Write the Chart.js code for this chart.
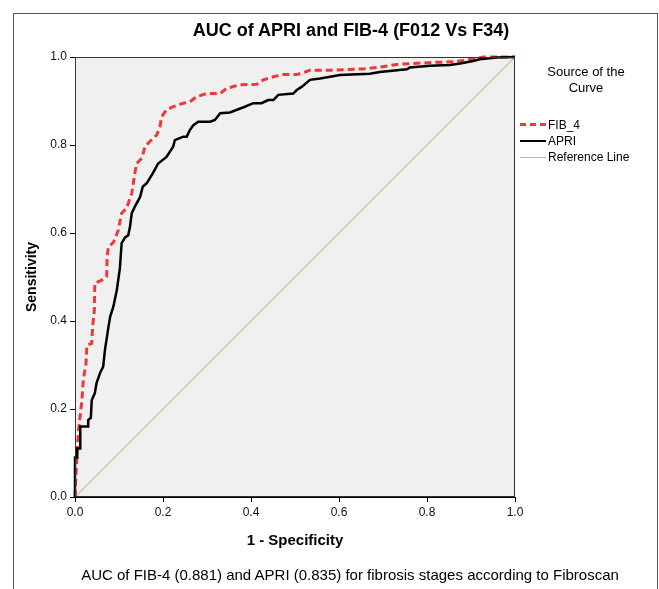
<!DOCTYPE html>
<html>
<head>
<meta charset="utf-8">
<script src="https://cdn.jsdelivr.net/npm/chart.js@4.4.1/dist/chart.umd.min.js"></script>
<style>
  html, body { margin: 0; padding: 0; background: #fff; }
  #wrap { position: relative; width: 659px; height: 589px; overflow: hidden;
          font-family: Arial, "Liberation Sans", sans-serif; color: #000; }
  #frame { position: absolute; left: 13px; top: 13px; width: 645px; height: 600px;
           border: 1px solid #555; box-sizing: border-box; }
  #chart { position: absolute; left: 0; top: 0; }
  .txt { position: absolute; white-space: nowrap; }
  #title { left: 0; width: 702px; top: 19px; text-align: center; font-size: 18px;
           font-weight: bold; line-height: 22px; }
  #caption { left: 0; width: 700px; top: 566px; text-align: center; font-size: 15px;
             line-height: 18px; }
  #legTitle { left: 526px; width: 120px; top: 64px; text-align: center; font-size: 13px;
              line-height: 16px; }
  .legItem { left: 548px; font-size: 12px; line-height: 14px; }
  .swatch { position: absolute; left: 520px; width: 26px; height: 0; }
</style>
</head>
<body>
<div id="wrap">
  <div id="frame"></div>
  <canvas id="chart" width="659" height="589"></canvas>
  <div class="txt" id="title">AUC of APRI and FIB-4 (F012 Vs F34)</div>
  <div class="txt" id="legTitle">Source of the<br>Curve</div>
  <div class="swatch" style="top:123px;border-top:3px dashed #f03838;"></div>
  <div class="txt legItem" style="top:118px;">FIB_4</div>
  <div class="swatch" style="top:140px;border-top:2.5px solid #000;"></div>
  <div class="txt legItem" style="top:134px;">APRI</div>
  <div class="swatch" style="top:157px;border-top:1px solid #c9bb7e;"></div>
  <div class="txt legItem" style="top:150px;">Reference Line</div>
  <div class="txt" id="caption">AUC of FIB-4 (0.881) and APRI (0.835) for fibrosis stages according to Fibroscan</div>
</div>
<script>
// 曲线数据（1 - 特异度, 灵敏度）
const apriX = [0, 0, 0.005, 0.005, 0.012, 0.012, 0.03, 0.03, 0.036, 0.038, 0.045, 0.049, 0.057,
  0.064, 0.068, 0.076, 0.080, 0.087, 0.095, 0.102, 0.106, 0.114, 0.121, 0.125, 0.129, 0.136,
  0.148, 0.154, 0.163, 0.177, 0.189, 0.208, 0.223, 0.227, 0.246, 0.254, 0.261, 0.269, 0.28,
  0.307, 0.318, 0.33, 0.352, 0.386, 0.405, 0.424, 0.439, 0.451, 0.462, 0.496, 0.504, 0.515,
  0.534, 0.557, 0.58, 0.602, 0.67, 0.693, 0.754, 0.761, 0.807, 0.852, 0.875, 0.905, 0.92,
  0.958, 1];
const apriY = [0, 0.09, 0.09, 0.11, 0.11, 0.16, 0.16, 0.175, 0.18, 0.22, 0.236, 0.259, 0.282,
  0.296, 0.334, 0.386, 0.41, 0.432, 0.47, 0.52, 0.577, 0.59, 0.595, 0.614, 0.645, 0.66,
  0.682, 0.705, 0.713, 0.736, 0.758, 0.773, 0.796, 0.811, 0.819, 0.819, 0.834, 0.845, 0.853,
  0.853, 0.857, 0.872, 0.874, 0.887, 0.895, 0.895, 0.902, 0.902, 0.914, 0.917, 0.925, 0.932,
  0.948, 0.951, 0.955, 0.959, 0.962, 0.966, 0.972, 0.976, 0.98, 0.982, 0.985, 0.991, 0.995,
  0.999, 1];

const fib4X = [0, 0.002, 0.004, 0.008, 0.015, 0.019, 0.025, 0.027, 0.038, 0.04, 0.044, 0.045,
  0.061, 0.072, 0.073, 0.076, 0.087, 0.098, 0.106, 0.117, 0.129, 0.136, 0.14, 0.152, 0.159,
  0.17, 0.186, 0.193, 0.197, 0.208, 0.223, 0.246, 0.261, 0.277, 0.299, 0.33, 0.345, 0.375,
  0.413, 0.428, 0.451, 0.473, 0.504, 0.523, 0.534, 0.58, 0.655, 0.693, 0.731, 0.761, 0.822,
  0.86, 0.89, 0.913, 0.928, 1];
const fib4Y = [0, 0.05, 0.084, 0.152, 0.213, 0.266, 0.304, 0.345, 0.349, 0.387, 0.425, 0.486,
  0.493, 0.501, 0.546, 0.569, 0.578, 0.605, 0.645, 0.656, 0.69, 0.736, 0.758, 0.77, 0.796,
  0.808, 0.823, 0.842, 0.864, 0.88, 0.887, 0.895, 0.898, 0.91, 0.917, 0.917, 0.929, 0.937,
  0.938, 0.948, 0.955, 0.96, 0.96, 0.966, 0.97, 0.97, 0.973, 0.977, 0.983, 0.985, 0.988,
  0.989, 0.993, 0.997, 1, 1];

const refX = [0, 1];
const refY = [0, 1];

const axisTicks = [0, 0.2, 0.4, 0.6, 0.8, 1.0];

function toPoints(xs, ys) {
  return xs.map((x, i) => ({ x: x, y: ys[i] }));
}

// 绘图区灰底和边框
const plotFrame = {
  id: 'plotFrame',
  beforeDraw(chart) {
    const { ctx, chartArea: a } = chart;
    ctx.save();
    ctx.fillStyle = '#f0f0f0';
    ctx.fillRect(a.left, a.top, a.right - a.left, a.bottom - a.top);
    ctx.restore();
  },
  afterDatasetsDraw(chart) {
    const { ctx, chartArea: a } = chart;
    ctx.save();
    ctx.strokeStyle = '#333';
    ctx.lineWidth = 1;
    ctx.strokeRect(a.left + 0.5, a.top + 0.5, a.right - a.left - 1, a.bottom - a.top - 1);
    ctx.restore();
  }
};

Chart.defaults.font.family = 'Arial, "Liberation Sans", sans-serif';
Chart.defaults.color = '#111';

const scaleBase = {
  type: 'linear',
  min: 0,
  max: 1,
  afterBuildTicks: (s) => { s.ticks = axisTicks.map(v => ({ value: v })); },
  grid: { drawOnChartArea: false, drawTicks: true, tickLength: 5, color: '#000' },
  border: { display: true, color: '#000', width: 1 }
};

new Chart(document.getElementById('chart'), {
  type: 'line',
  data: {
    datasets: [
      {
        label: 'APRI',
        data: toPoints(apriX, apriY),
        borderColor: '#000',
        borderWidth: 2.5,
        pointRadius: 0,
        tension: 0,
        clip: false
      },
      {
        label: 'FIB_4',
        data: toPoints(fib4X, fib4Y),
        borderColor: '#f03838',
        borderWidth: 3,
        borderDash: [7, 4],
        pointRadius: 0,
        tension: 0,
        clip: false
      },
      {
        label: 'Reference Line',
        data: toPoints(refX, refY),
        borderColor: '#c9bb7e',
        borderWidth: 1.2,
        pointRadius: 0,
        tension: 0
      }
    ]
  },
  options: {
    responsive: false,
    animation: false,
    devicePixelRatio: 1,
    layout: { padding: { left: 0, top: 57, right: 144, bottom: 30 } },
    plugins: {
      legend: { display: false },
      tooltip: { enabled: false },
      title: { display: false }
    },
    scales: {
      x: {
        ...scaleBase,
        position: 'bottom',
        afterFit: (s) => { s.height = 62; },
        ticks: { autoSkip: false, maxRotation: 0, padding: 3, font: { size: 12 },
                 callback: (v) => Number(v).toFixed(1) },
        title: { display: true, text: '1 - Specificity', font: { size: 15, weight: 'bold' },
                 color: '#000', padding: { top: 0, bottom: 9 } }
      },
      y: {
        ...scaleBase,
        position: 'left',
        afterFit: (s) => { s.width = 75; },
        ticks: { autoSkip: false, padding: 3, font: { size: 12 },
                 callback: (v) => Number(v).toFixed(1) },
        title: { display: true, text: 'Sensitivity', font: { size: 14, weight: 'bold' },
                 color: '#000', padding: { top: 24, bottom: 0 } }
      }
    }
  },
  plugins: [plotFrame]
});
</script>
</body>
</html>
